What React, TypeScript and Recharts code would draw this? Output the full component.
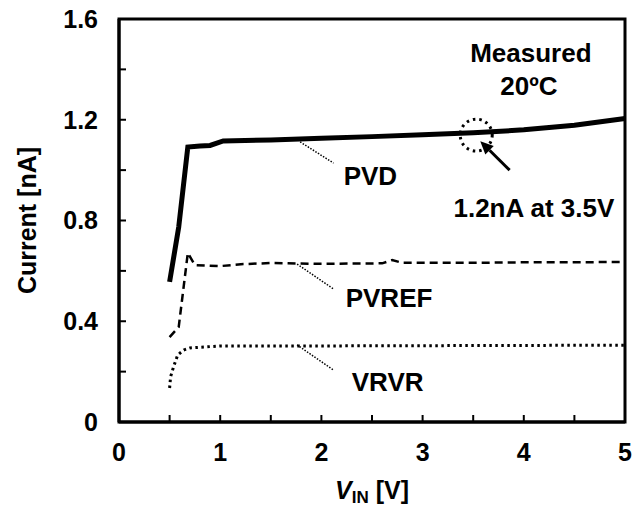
import { LineChart, Line, XAxis, YAxis, ReferenceArea, ReferenceLine, ReferenceDot, Label } from 'recharts';

// PVD (thick solid)
const pvdX = [0.5, 0.59, 0.68, 0.8, 0.9, 1.03, 1.5, 2.0, 2.5, 3.0, 3.5, 4.0, 4.5, 5.0];
const pvdY = [0.556, 0.774, 1.092, 1.096, 1.098, 1.116, 1.12, 1.127, 1.133, 1.14, 1.148, 1.16, 1.178, 1.205];

// PVREF (dashed)
const pvrefX = [0.5, 0.59, 0.68, 0.75, 1.0, 1.23, 1.5, 2.0, 2.6, 2.7, 2.8, 3.5, 4.0, 5.0];
const pvrefY = [0.337, 0.377, 0.671, 0.623, 0.619, 0.627, 0.631, 0.628, 0.63, 0.643, 0.632, 0.632, 0.634, 0.635];

// VRVR (dotted)
const vrvrX = [0.5, 0.51, 0.54, 0.58, 0.64, 0.7, 1.0, 2.0, 3.0, 4.0, 5.0];
const vrvrY = [0.135, 0.18, 0.22, 0.266, 0.286, 0.294, 0.302, 0.302, 0.303, 0.304, 0.305];

const xTicks = [0, 0.5, 1, 1.5, 2, 2.5, 3, 3.5, 4, 4.5, 5];
const yTicks = [0, 0.2, 0.4, 0.6, 0.8, 1.0, 1.2, 1.4, 1.6];

const toRows = (xs: number[], ys: number[]) => xs.map((x, i) => ({ x, y: ys[i] }));
const pvd = toRows(pvdX, pvdY);
const pvref = toRows(pvrefX, pvrefY);
const vrvr = toRows(vrvrX, vrvrY);

const font = '"Liberation Sans", Arial, sans-serif';
const txt = { fontFamily: font, fontWeight: 700, fontSize: 25, fill: '#000' };
const note = { ...txt, fontSize: 26 };

const TextAt = (value: string, anchor: 'start' | 'middle') => (p: any) => (
  <text x={p.cx} y={p.cy} textAnchor={anchor} {...note}>{value}</text>
);

const Arrow = (p: any) => {
  const ang = Math.atan2(p.y2 - p.y1, p.x2 - p.x1);
  const len = 13;
  const w = 6;
  const bx = p.x2 - len * Math.cos(ang);
  const by = p.y2 - len * Math.sin(ang);
  const pts = [
    `${p.x2},${p.y2}`,
    `${bx + w * Math.sin(ang)},${by - w * Math.cos(ang)}`,
    `${bx - w * Math.sin(ang)},${by + w * Math.cos(ang)}`,
  ].join(' ');
  return (
    <g>
      <line x1={p.x1} y1={p.y1} x2={bx} y2={by} stroke="#000" strokeWidth={3} />
      <polygon points={pts} fill="#000" />
    </g>
  );
};

const leader = { stroke: '#000', strokeWidth: 1.5, strokeDasharray: '1.5 1.5' };

export default function App() {
  return (
    <div style={{ position: 'absolute', left: 0, top: 0, background: '#fff' }}>
      <LineChart width={635} height={508} margin={{ top: 19, right: 10, bottom: 26, left: 39 }}>
        <XAxis
          type="number"
          dataKey="x"
          domain={[0, 5]}
          ticks={xTicks}
          allowDuplicatedCategory={false}
          tickFormatter={(v: number) => (Number.isInteger(v) ? String(v) : '')}
          tickSize={-7}
          tickMargin={28}
          height={60}
          axisLine={{ stroke: '#000', strokeWidth: 3 }}
          tickLine={{ stroke: '#000', strokeWidth: 2 }}
          tick={{ ...txt }}
        >
          <Label
            content={({ viewBox }: any) => (
              <text x={viewBox.x + viewBox.width / 2} y={viewBox.y + 77} textAnchor="middle" {...txt}>
                <tspan fontStyle="italic">V</tspan>
                <tspan fontSize={17} dy={4}>IN</tspan>
                <tspan dy={-4}> [V]</tspan>
              </text>
            )}
          />
        </XAxis>
        <YAxis
          type="number"
          domain={[0, 1.6]}
          ticks={yTicks}
          tickFormatter={(v: number) => (Math.round(v * 10) % 4 === 0 ? (v === 0 ? '0' : v.toFixed(1)) : '')}
          tickSize={-7}
          tickMargin={28}
          width={80}
          axisLine={{ stroke: '#000', strokeWidth: 3 }}
          tickLine={{ stroke: '#000', strokeWidth: 2 }}
          tick={{ ...txt }}
        >
          <Label
            content={({ viewBox }: any) => {
              const cx = 36;
              const cy = viewBox.y + viewBox.height / 2;
              return (
                <text x={cx} y={cy} textAnchor="middle" transform={`rotate(-90 ${cx} ${cy})`} {...txt}>
                  Current [nA]
                </text>
              );
            }}
          />
        </YAxis>

        <ReferenceArea x1={0} x2={5} y1={0} y2={1.6} fill="none" stroke="#000" strokeWidth={3} />

        <Line data={vrvr} dataKey="y" stroke="#000" strokeWidth={3} strokeDasharray="2.5 3.5" dot={false} isAnimationActive={false} />
        <Line data={pvref} dataKey="y" stroke="#000" strokeWidth={2.5} strokeDasharray="8 5" dot={false} isAnimationActive={false} />
        <Line data={pvd} dataKey="y" stroke="#000" strokeWidth={5} dot={false} isAnimationActive={false} />

        <ReferenceLine segment={[{ x: 1.79, y: 1.112 }, { x: 2.12, y: 1.028 }]} {...leader} />
        <ReferenceLine segment={[{ x: 1.76, y: 0.627 }, { x: 2.12, y: 0.528 }]} {...leader} />
        <ReferenceLine segment={[{ x: 1.76, y: 0.306 }, { x: 2.12, y: 0.206 }]} {...leader} />

        <ReferenceDot x={2.22} y={0.941} r={0} shape={TextAt('PVD', 'start')} />
        <ReferenceDot x={2.24} y={0.457} r={0} shape={TextAt('PVREF', 'start')} />
        <ReferenceDot x={2.3} y={0.123} r={0} shape={TextAt('VRVR', 'start')} />
        <ReferenceDot x={4.07} y={1.429} r={0} shape={TextAt('Measured', 'middle')} />
        <ReferenceDot x={4.05} y={1.298} r={0} shape={TextAt('20ºC', 'middle')} />
        <ReferenceDot x={4.1} y={0.814} r={0} shape={TextAt('1.2nA at 3.5V', 'middle')} />

        <ReferenceDot
          x={3.53}
          y={1.139}
          r={16}
          shape={(p: any) => (
            <circle cx={p.cx} cy={p.cy} r={16} fill="none" stroke="#000" strokeWidth={3} strokeDasharray="2.5 4" />
          )}
        />
        <ReferenceLine segment={[{ x: 3.86, y: 1.0 }, { x: 3.57, y: 1.115 }]} shape={Arrow} />
      </LineChart>
    </div>
  );
}
